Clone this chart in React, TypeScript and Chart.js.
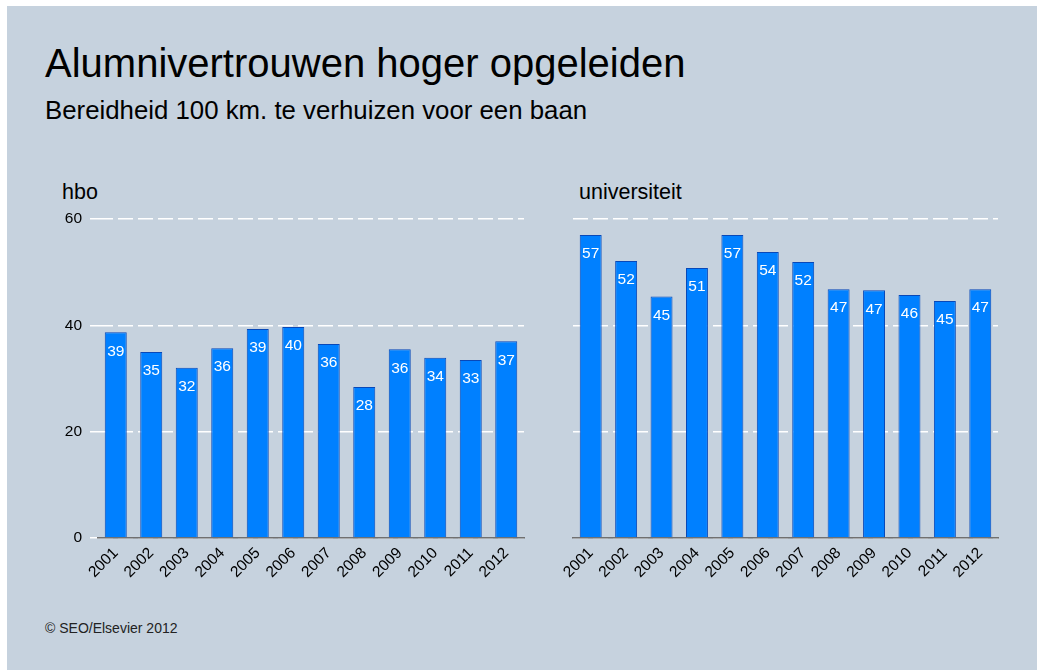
import React, { useEffect, useRef } from "react";
import { Chart, registerables } from "chart.js";

Chart.register(...registerables);

const years = ["2001", "2002", "2003", "2004", "2005", "2006", "2007", "2008", "2009", "2010", "2011", "2012"];
const hboValues = [38.7, 35.0, 32.0, 35.7, 39.3, 39.7, 36.5, 28.4, 35.5, 33.9, 33.5, 37.0];
const hboLabels = ["39", "35", "32", "36", "39", "40", "36", "28", "36", "34", "33", "37"];
const uniValues = [57.0, 52.1, 45.4, 50.8, 57.0, 53.8, 51.9, 46.8, 46.6, 45.7, 44.6, 46.8];
const uniLabels = ["57", "52", "45", "51", "57", "54", "52", "47", "47", "46", "45", "47"];
const yMin = 0;
const yMax = 60;
const yStep = 20;

const FONT = "'Liberation Sans', Arial, Helvetica, sans-serif";
const BG = "#c6d2de";

type PanelProps = {
  values: number[];
  labels: string[];
  showY: boolean;
  left: number;
  top: number;
  width: number;
  height: number;
  axisWidth: number;
  padRight: number;
  padTop: number;
};

function BarPanel(p: PanelProps) {
  const ref = useRef<HTMLCanvasElement | null>(null);
  useEffect(() => {
    if (!ref.current) return;
    const labelPlugin = {
      id: "barLabels",
      afterDatasetsDraw(chart: any) {
        const ctx = chart.ctx;
        const meta = chart.getDatasetMeta(0);
        ctx.save();
        ctx.fillStyle = "#ffffff";
        ctx.font = `15.5px ${FONT}`;
        ctx.textAlign = "center";
        ctx.textBaseline = "middle";
        meta.data.forEach((el: any, i: number) => {
          ctx.fillText(p.labels[i], el.x, el.y + 19);
        });
        ctx.restore();
      },
    };
    const chart = new Chart(ref.current, {
      type: "bar",
      data: {
        labels: years,
        datasets: [
          {
            data: p.values,
            backgroundColor: "#0080ff",
            borderColor: "#0848b8",
            borderWidth: 1,
            barPercentage: 0.62,
            categoryPercentage: 1,
          },
        ],
      },
      options: {
        animation: false,
        responsive: false,
        devicePixelRatio: 1,
        layout: { padding: { top: p.padTop, right: p.padRight, left: 0, bottom: 0 } },
        plugins: { legend: { display: false }, tooltip: { enabled: false } },
        scales: {
          x: {
            grid: { display: false, drawTicks: false },
            border: { display: true, color: "#707070", width: 1.5 },
            ticks: {
              color: "#000",
              font: { family: FONT, size: 15.5 },
              minRotation: 45,
              maxRotation: 45,
              autoSkip: false,
              padding: 6,
            },
            afterFit(scale: any) {
              scale.height = 62;
            },
          },
          y: {
            min: yMin,
            max: yMax,
            border: { display: false, dash: [15, 5] },
            grid: {
              color: "#ffffff",
              lineWidth: 1.5,
              drawTicks: p.showY,
              tickLength: 8,
              tickColor: "#ffffff",
              tickWidth: 1.5,
            },
            ticks: {
              display: p.showY,
              stepSize: yStep,
              color: "#000",
              font: { family: FONT, size: 15.5 },
              padding: 8,
            },
            afterFit(scale: any) {
              scale.width = p.axisWidth;
            },
          },
        },
      },
      plugins: [labelPlugin],
    } as any);
    return () => chart.destroy();
  }, []);
  return (
    <canvas
      ref={ref}
      width={p.width}
      height={p.height}
      style={{ position: "absolute", left: p.left, top: p.top, width: p.width, height: p.height }}
    />
  );
}

export default function App() {
  const text = (s: string, left: number, top: number, size: number, color = "#000") => (
    <div
      style={{
        position: "absolute",
        left,
        top,
        fontFamily: FONT,
        fontSize: size,
        lineHeight: 1,
        color,
        whiteSpace: "nowrap",
      }}
    >
      {s}
    </div>
  );
  return (
    <div style={{ position: "absolute", left: 0, top: 0, width: 1037, height: 670, background: "#fff", overflow: "hidden" }}>
      <div style={{ position: "absolute", left: 7, top: 6, right: 0, bottom: 0, background: BG }} />
      {text("Alumnivertrouwen hoger opgeleiden", 45, 43, 40)}
      {text("Bereidheid 100 km. te verhuizen voor een baan", 45, 98, 25.8)}
      {text("hbo", 62, 181.5, 21.5)}
      {text("universiteit", 579, 181.5, 21.5)}
      {text("© SEO/Elsevier 2012", 45, 621, 14, "#222")}
      <BarPanel values={hboValues} labels={hboLabels} showY={true} left={40} top={200} width={500} height={400} axisWidth={58} padRight={16} padTop={19} />
      <BarPanel values={uniValues} labels={uniLabels} showY={false} left={545} top={200} width={475} height={400} axisWidth={28} padRight={22} padTop={19} />
    </div>
  );
}
